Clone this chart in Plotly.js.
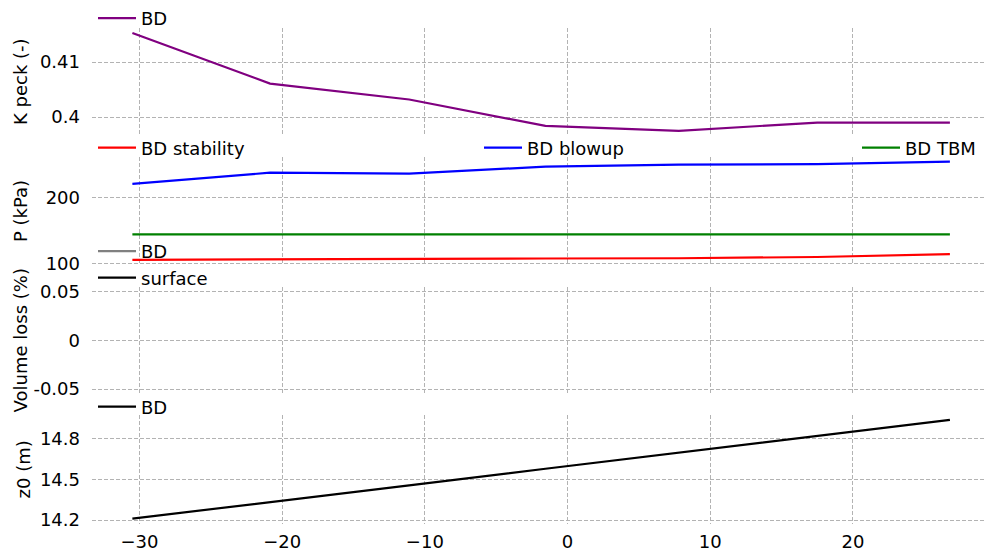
<!DOCTYPE html>
<html>
<head>
<meta charset="utf-8">
<script src="https://cdn.plot.ly/plotly-3.0.1.min.js"></script>
<style>html,body{margin:0;padding:0;background:#fff;}#chart{width:984px;height:551px;}</style>
</head>
<body>
<div id="chart"></div>
<script>
// ---- data ----
const xPos = [-30.5, -20.85, -11.1, -1.55, 7.8, 17.5, 26.8];
const kPeck = [0.4153, 0.4061, 0.4032, 0.3984, 0.3975, 0.3990, 0.3990];
const pStability = [106.0, 106.9, 107.5, 108.0, 108.4, 110.3, 114.5];
const pBlowup = [220.7, 237.7, 236.2, 246.8, 249.8, 250.5, 254.3];
const pTBM = [144.6, 144.6, 144.6, 144.6, 144.6, 144.6, 144.6];
const volLossBD = [null, null, null, null, null, null, null];
const volLossSurface = [null, null, null, null, null, null, null];
const z0 = [14.21, 14.33, 14.455, 14.577, 14.696, 14.82, 14.937];

const xTickVals = [-30, -20, -10, 0, 10, 20];
const kTickVals = [0.40, 0.41];
const kTickText = ['0.4', '0.41'];
const pTickVals = [100, 200];
const pTickText = ['100', '200'];
const vTickVals = [-0.05, 0, 0.05];
const vTickText = ['-0.05', '0', '0.05'];
const zTickVals = [14.2, 14.5, 14.8];
const zTickText = ['14.2', '14.5', '14.8'];

// ---- layout helpers ----
const W = 984, H = 551, L = 92, R = 0;
const px2x = p => (p - L) / (W - L - R);
const px2y = p => 1 - p / H;
const FONT = 'DejaVu Sans, sans-serif';
const FS = 18;

const traces = [
  {x: xPos, y: kPeck, name: 'BD', xaxis: 'x', yaxis: 'y', legend: 'legend',
   mode: 'lines', line: {color: '#800080', width: 2.2}},
  {x: xPos, y: pStability, name: 'BD stability', xaxis: 'x2', yaxis: 'y2', legend: 'legend2',
   mode: 'lines', line: {color: '#ff0000', width: 2.2}},
  {x: xPos, y: pBlowup, name: 'BD blowup', xaxis: 'x2', yaxis: 'y2', legend: 'legend3',
   mode: 'lines', line: {color: '#0000ff', width: 2.2}},
  {x: xPos, y: pTBM, name: 'BD TBM', xaxis: 'x2', yaxis: 'y2', legend: 'legend4',
   mode: 'lines', line: {color: '#008000', width: 2.2}},
  {x: xPos, y: volLossBD, name: 'BD', xaxis: 'x3', yaxis: 'y3', legend: 'legend5',
   mode: 'lines', line: {color: '#808080', width: 2.2}},
  {x: xPos, y: volLossSurface, name: 'surface', xaxis: 'x3', yaxis: 'y3', legend: 'legend5',
   mode: 'lines', line: {color: '#000000', width: 2.2}},
  {x: xPos, y: z0, name: 'BD', xaxis: 'x4', yaxis: 'y4', legend: 'legend6',
   mode: 'lines', line: {color: '#000000', width: 2.2}}
];

const gridCommon = {
  showgrid: true, gridcolor: '#b3b3b3', gridwidth: 1, griddash: '4px,2px',
  zeroline: false, showline: false, ticks: '', automargin: false,
  tickfont: {family: FONT, size: FS, color: '#000'}
};
const xRange = [-33.33, 29.19];
function xAx(anchor, show) {
  return Object.assign({}, gridCommon, {
    anchor: anchor, domain: [0, 1], range: xRange,
    tickmode: 'array', tickvals: xTickVals, showticklabels: show,
    ticklabelstandoff: 5
  });
}
function yAx(anchor, dom, range, tv, tt) {
  return Object.assign({}, gridCommon, {
    anchor: anchor, domain: dom, range: range,
    tickmode: 'array', tickvals: tv, ticktext: tt, ticklabelstandoff: 11
  });
}

function leg(xpx, ypx) {
  return {x: px2x(xpx), y: px2y(ypx), xanchor: 'left', yanchor: 'middle',
          bgcolor: 'rgba(0,0,0,0)', borderwidth: 0, orientation: 'v',
          font: {family: FONT, size: FS, color: '#000'}, itemwidth: 38};
}

function ytitle(text, yref, xpx) {
  return {text: text, xref: 'paper', yref: yref, x: px2x(xpx), y: 0.5,
          xanchor: 'center', yanchor: 'middle', textangle: -90, showarrow: false,
          font: {family: FONT, size: FS, color: '#000'}};
}

const layout = {
  width: W, height: H,
  margin: {l: L, r: R, t: 0, b: 0, pad: 0},
  paper_bgcolor: '#fff', plot_bgcolor: '#fff',
  font: {family: FONT, size: FS, color: '#000'},
  showlegend: true,
  xaxis: xAx('y', false),
  xaxis2: xAx('y2', false),
  xaxis3: xAx('y3', false),
  xaxis4: xAx('y4', true),
  yaxis: yAx('x', [px2y(134.9), px2y(27.4)], [0.39662, 0.41616], kTickVals, kTickText),
  yaxis2: yAx('x2', [px2y(264.8), px2y(156)], [97.7, 261.8], pTickVals, pTickText),
  yaxis3: yAx('x3', [px2y(393.7), px2y(286.3)], [-0.055, 0.055], vTickVals, vTickText),
  yaxis4: yAx('x4', [px2y(523.5), px2y(415.1)], [14.174, 14.970], zTickVals, zTickText),
  legend: leg(93, 18),
  legend2: leg(93, 148),
  legend3: leg(479, 148),
  legend4: leg(857, 148),
  legend5: leg(93, 264.5),
  legend6: leg(93, 407),
  annotations: [
    ytitle('K peck (-)', 'y domain', 20),
    ytitle('P (kPa)', 'y2 domain', 20),
    ytitle('Volume loss (%)', 'y3 domain', 20),
    ytitle('z0 (m)', 'y4 domain', 23)
  ]
};

Plotly.newPlot('chart', traces, layout, {staticPlot: true, displayModeBar: false});
</script>
</body>
</html>
